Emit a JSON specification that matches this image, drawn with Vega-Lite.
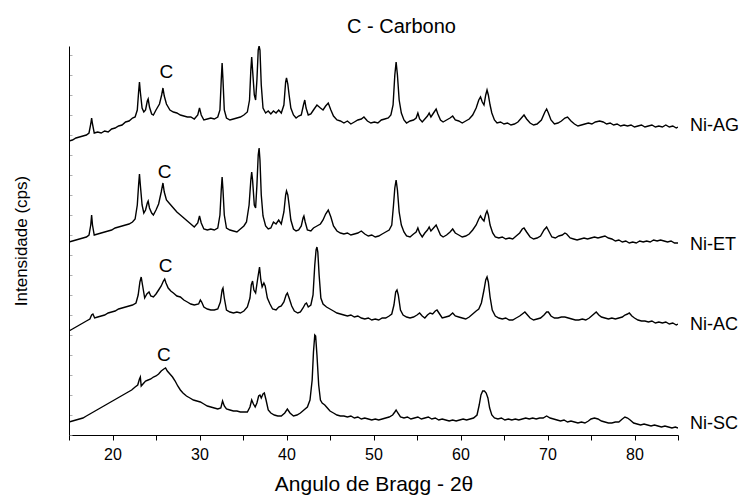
{
  "$schema": "https://vega.github.io/schema/vega-lite/v6.json",
  "autosize": {"type": "none"},
  "padding": {"left": 69, "top": 46, "right": 70, "bottom": 62},
  "width": 609,
  "height": 389,
  "background": "white",
  "config": {
    "view": {"stroke": null},
    "font": "Liberation Sans",
    "axis": {"labelFont": "Liberation Sans", "titleFont": "Liberation Sans", "labelColor": "black", "titleColor": "black", "domainColor": "black", "tickColor": "black", "grid": false, "titleFontWeight": "normal"}
  },
  "title": {"text": "C - Carbono", "fontSize": 20, "font": "Liberation Sans", "fontWeight": "normal", "color": "black", "anchor": "middle", "dx": 28, "dy": 25, "offset": 18, "baseline": "alphabetic"},
  "datasets": {
    "xrd": [
{"s":"AG","x":15.0,"y":294},{"s":"AG","x":15.4,"y":295},{"s":"AG","x":15.8,"y":297},{"s":"AG","x":16.2,"y":298},{"s":"AG","x":16.6,"y":299},{"s":"AG","x":17.0,"y":300},{"s":"AG","x":17.3,"y":302},{"s":"AG","x":17.5,"y":311},{"s":"AG","x":17.6,"y":317},{"s":"AG","x":17.7,"y":311},{"s":"AG","x":17.9,"y":302},{"s":"AG","x":18.3,"y":303},{"s":"AG","x":18.7,"y":302},{"s":"AG","x":19.1,"y":304},{"s":"AG","x":19.5,"y":303},{"s":"AG","x":19.9,"y":306},{"s":"AG","x":20.3,"y":307},{"s":"AG","x":20.7,"y":309},{"s":"AG","x":21.1,"y":310},{"s":"AG","x":21.5,"y":313},{"s":"AG","x":21.9,"y":314},{"s":"AG","x":22.3,"y":317},{"s":"AG","x":22.6,"y":318},{"s":"AG","x":22.85,"y":325},{"s":"AG","x":23.0,"y":343},{"s":"AG","x":23.1,"y":353},{"s":"AG","x":23.2,"y":343},{"s":"AG","x":23.4,"y":327},{"s":"AG","x":23.6,"y":323},{"s":"AG","x":23.8,"y":325},{"s":"AG","x":24.0,"y":334},{"s":"AG","x":24.1,"y":336},{"s":"AG","x":24.25,"y":328},{"s":"AG","x":24.5,"y":321},{"s":"AG","x":24.7,"y":320},{"s":"AG","x":25.0,"y":325},{"s":"AG","x":25.4,"y":331},{"s":"AG","x":25.65,"y":340},{"s":"AG","x":25.8,"y":347},{"s":"AG","x":25.95,"y":339},{"s":"AG","x":26.2,"y":331},{"s":"AG","x":26.6,"y":325},{"s":"AG","x":27.0,"y":323},{"s":"AG","x":27.4,"y":322},{"s":"AG","x":27.8,"y":320},{"s":"AG","x":28.2,"y":319},{"s":"AG","x":28.6,"y":318},{"s":"AG","x":29.0,"y":318},{"s":"AG","x":29.4,"y":316},{"s":"AG","x":29.8,"y":320},{"s":"AG","x":30.0,"y":327},{"s":"AG","x":30.2,"y":320},{"s":"AG","x":30.5,"y":315},{"s":"AG","x":30.9,"y":316},{"s":"AG","x":31.3,"y":317},{"s":"AG","x":31.7,"y":316},{"s":"AG","x":32.1,"y":318},{"s":"AG","x":32.35,"y":325},{"s":"AG","x":32.5,"y":355},{"s":"AG","x":32.6,"y":372},{"s":"AG","x":32.7,"y":355},{"s":"AG","x":32.85,"y":325},{"s":"AG","x":33.1,"y":317},{"s":"AG","x":33.5,"y":315},{"s":"AG","x":33.9,"y":316},{"s":"AG","x":34.3,"y":317},{"s":"AG","x":34.7,"y":318},{"s":"AG","x":35.1,"y":320},{"s":"AG","x":35.5,"y":323},{"s":"AG","x":35.75,"y":335},{"s":"AG","x":35.9,"y":365},{"s":"AG","x":36.0,"y":378},{"s":"AG","x":36.1,"y":365},{"s":"AG","x":36.3,"y":340},{"s":"AG","x":36.45,"y":335},{"s":"AG","x":36.6,"y":355},{"s":"AG","x":36.75,"y":385},{"s":"AG","x":36.85,"y":389},{"s":"AG","x":36.95,"y":385},{"s":"AG","x":37.1,"y":350},{"s":"AG","x":37.3,"y":327},{"s":"AG","x":37.6,"y":322},{"s":"AG","x":37.9,"y":324},{"s":"AG","x":38.2,"y":321},{"s":"AG","x":38.5,"y":324},{"s":"AG","x":38.8,"y":322},{"s":"AG","x":39.1,"y":325},{"s":"AG","x":39.4,"y":322},{"s":"AG","x":39.7,"y":330},{"s":"AG","x":39.9,"y":353},{"s":"AG","x":40.0,"y":357},{"s":"AG","x":40.15,"y":351},{"s":"AG","x":40.3,"y":340},{"s":"AG","x":40.5,"y":327},{"s":"AG","x":40.8,"y":320},{"s":"AG","x":41.1,"y":317},{"s":"AG","x":41.4,"y":319},{"s":"AG","x":41.7,"y":320},{"s":"AG","x":41.95,"y":330},{"s":"AG","x":42.1,"y":335},{"s":"AG","x":42.25,"y":327},{"s":"AG","x":42.5,"y":320},{"s":"AG","x":42.8,"y":321},{"s":"AG","x":43.1,"y":325},{"s":"AG","x":43.5,"y":330},{"s":"AG","x":43.9,"y":327},{"s":"AG","x":44.2,"y":325},{"s":"AG","x":44.5,"y":329},{"s":"AG","x":44.8,"y":332},{"s":"AG","x":45.1,"y":325},{"s":"AG","x":45.4,"y":319},{"s":"AG","x":45.8,"y":315},{"s":"AG","x":46.2,"y":314},{"s":"AG","x":46.6,"y":312},{"s":"AG","x":47.0,"y":314},{"s":"AG","x":47.4,"y":311},{"s":"AG","x":47.8,"y":313},{"s":"AG","x":48.2,"y":315},{"s":"AG","x":48.6,"y":316},{"s":"AG","x":48.9,"y":318},{"s":"AG","x":49.3,"y":314},{"s":"AG","x":49.7,"y":312},{"s":"AG","x":50.1,"y":313},{"s":"AG","x":50.5,"y":312},{"s":"AG","x":50.9,"y":315},{"s":"AG","x":51.3,"y":316},{"s":"AG","x":51.7,"y":317},{"s":"AG","x":52.0,"y":320},{"s":"AG","x":52.25,"y":330},{"s":"AG","x":52.45,"y":360},{"s":"AG","x":52.6,"y":373},{"s":"AG","x":52.75,"y":360},{"s":"AG","x":52.95,"y":335},{"s":"AG","x":53.2,"y":322},{"s":"AG","x":53.5,"y":315},{"s":"AG","x":53.8,"y":312},{"s":"AG","x":54.2,"y":314},{"s":"AG","x":54.6,"y":315},{"s":"AG","x":54.9,"y":317},{"s":"AG","x":55.1,"y":322},{"s":"AG","x":55.3,"y":316},{"s":"AG","x":55.6,"y":313},{"s":"AG","x":55.9,"y":316},{"s":"AG","x":56.2,"y":319},{"s":"AG","x":56.4,"y":322},{"s":"AG","x":56.6,"y":318},{"s":"AG","x":56.9,"y":322},{"s":"AG","x":57.2,"y":326},{"s":"AG","x":57.4,"y":321},{"s":"AG","x":57.7,"y":315},{"s":"AG","x":58.0,"y":313},{"s":"AG","x":58.4,"y":315},{"s":"AG","x":58.8,"y":317},{"s":"AG","x":59.1,"y":319},{"s":"AG","x":59.4,"y":315},{"s":"AG","x":59.8,"y":314},{"s":"AG","x":60.2,"y":312},{"s":"AG","x":60.6,"y":314},{"s":"AG","x":61.0,"y":316},{"s":"AG","x":61.4,"y":320},{"s":"AG","x":61.8,"y":327},{"s":"AG","x":62.1,"y":335},{"s":"AG","x":62.3,"y":338},{"s":"AG","x":62.5,"y":333},{"s":"AG","x":62.7,"y":330},{"s":"AG","x":62.9,"y":340},{"s":"AG","x":63.05,"y":345},{"s":"AG","x":63.2,"y":340},{"s":"AG","x":63.4,"y":330},{"s":"AG","x":63.6,"y":322},{"s":"AG","x":63.9,"y":315},{"s":"AG","x":64.2,"y":312},{"s":"AG","x":64.6,"y":313},{"s":"AG","x":65.0,"y":311},{"s":"AG","x":65.4,"y":312},{"s":"AG","x":65.8,"y":310},{"s":"AG","x":66.2,"y":311},{"s":"AG","x":66.6,"y":313},{"s":"AG","x":67.0,"y":317},{"s":"AG","x":67.3,"y":320},{"s":"AG","x":67.6,"y":316},{"s":"AG","x":68.0,"y":312},{"s":"AG","x":68.4,"y":310},{"s":"AG","x":68.8,"y":311},{"s":"AG","x":69.3,"y":315},{"s":"AG","x":69.7,"y":323},{"s":"AG","x":69.9,"y":326},{"s":"AG","x":70.1,"y":322},{"s":"AG","x":70.4,"y":315},{"s":"AG","x":70.8,"y":311},{"s":"AG","x":71.2,"y":312},{"s":"AG","x":71.6,"y":314},{"s":"AG","x":72.0,"y":317},{"s":"AG","x":72.3,"y":318},{"s":"AG","x":72.7,"y":314},{"s":"AG","x":73.1,"y":311},{"s":"AG","x":73.5,"y":309},{"s":"AG","x":73.9,"y":310},{"s":"AG","x":74.3,"y":311},{"s":"AG","x":74.7,"y":312},{"s":"AG","x":75.1,"y":311},{"s":"AG","x":75.5,"y":313},{"s":"AG","x":76.0,"y":314},{"s":"AG","x":76.4,"y":313},{"s":"AG","x":76.8,"y":311},{"s":"AG","x":77.2,"y":312},{"s":"AG","x":77.6,"y":310},{"s":"AG","x":78.0,"y":311},{"s":"AG","x":78.4,"y":309},{"s":"AG","x":78.8,"y":310},{"s":"AG","x":79.2,"y":309},{"s":"AG","x":79.6,"y":310},{"s":"AG","x":80.0,"y":308},{"s":"AG","x":80.4,"y":309},{"s":"AG","x":80.8,"y":310},{"s":"AG","x":81.2,"y":308},{"s":"AG","x":81.6,"y":309},{"s":"AG","x":82.0,"y":310},{"s":"AG","x":82.4,"y":308},{"s":"AG","x":82.8,"y":309},{"s":"AG","x":83.2,"y":308},{"s":"AG","x":83.6,"y":310},{"s":"AG","x":84.0,"y":308},{"s":"AG","x":84.4,"y":309},{"s":"AG","x":84.8,"y":307},{"s":"AG","x":85.0,"y":308},
{"s":"ET","x":15.0,"y":193},{"s":"ET","x":15.4,"y":194},{"s":"ET","x":15.8,"y":195},{"s":"ET","x":16.2,"y":196},{"s":"ET","x":16.6,"y":197},{"s":"ET","x":17.0,"y":198},{"s":"ET","x":17.3,"y":200},{"s":"ET","x":17.5,"y":210},{"s":"ET","x":17.6,"y":220},{"s":"ET","x":17.7,"y":210},{"s":"ET","x":17.9,"y":200},{"s":"ET","x":18.3,"y":201},{"s":"ET","x":18.7,"y":202},{"s":"ET","x":19.1,"y":203},{"s":"ET","x":19.5,"y":204},{"s":"ET","x":19.9,"y":205},{"s":"ET","x":20.3,"y":207},{"s":"ET","x":20.7,"y":208},{"s":"ET","x":21.1,"y":209},{"s":"ET","x":21.5,"y":210},{"s":"ET","x":21.9,"y":211},{"s":"ET","x":22.3,"y":213},{"s":"ET","x":22.6,"y":216},{"s":"ET","x":22.85,"y":230},{"s":"ET","x":23.0,"y":250},{"s":"ET","x":23.1,"y":261},{"s":"ET","x":23.2,"y":250},{"s":"ET","x":23.4,"y":230},{"s":"ET","x":23.6,"y":222},{"s":"ET","x":23.8,"y":225},{"s":"ET","x":24.0,"y":232},{"s":"ET","x":24.1,"y":234},{"s":"ET","x":24.25,"y":227},{"s":"ET","x":24.5,"y":222},{"s":"ET","x":24.7,"y":220},{"s":"ET","x":25.0,"y":225},{"s":"ET","x":25.3,"y":231},{"s":"ET","x":25.6,"y":243},{"s":"ET","x":25.8,"y":252},{"s":"ET","x":25.95,"y":243},{"s":"ET","x":26.2,"y":235},{"s":"ET","x":26.6,"y":231},{"s":"ET","x":27.0,"y":227},{"s":"ET","x":27.4,"y":223},{"s":"ET","x":27.8,"y":220},{"s":"ET","x":28.2,"y":217},{"s":"ET","x":28.6,"y":214},{"s":"ET","x":29.0,"y":211},{"s":"ET","x":29.4,"y":208},{"s":"ET","x":29.8,"y":212},{"s":"ET","x":30.0,"y":219},{"s":"ET","x":30.2,"y":212},{"s":"ET","x":30.5,"y":206},{"s":"ET","x":30.9,"y":205},{"s":"ET","x":31.3,"y":206},{"s":"ET","x":31.7,"y":205},{"s":"ET","x":32.1,"y":207},{"s":"ET","x":32.35,"y":220},{"s":"ET","x":32.5,"y":245},{"s":"ET","x":32.6,"y":258},{"s":"ET","x":32.7,"y":245},{"s":"ET","x":32.85,"y":220},{"s":"ET","x":33.1,"y":207},{"s":"ET","x":33.5,"y":205},{"s":"ET","x":33.9,"y":204},{"s":"ET","x":34.3,"y":203},{"s":"ET","x":34.7,"y":206},{"s":"ET","x":35.1,"y":209},{"s":"ET","x":35.4,"y":213},{"s":"ET","x":35.7,"y":230},{"s":"ET","x":35.9,"y":255},{"s":"ET","x":36.0,"y":263},{"s":"ET","x":36.1,"y":255},{"s":"ET","x":36.3,"y":230},{"s":"ET","x":36.45,"y":227},{"s":"ET","x":36.6,"y":250},{"s":"ET","x":36.75,"y":280},{"s":"ET","x":36.85,"y":287},{"s":"ET","x":36.95,"y":275},{"s":"ET","x":37.1,"y":240},{"s":"ET","x":37.3,"y":219},{"s":"ET","x":37.6,"y":209},{"s":"ET","x":37.9,"y":206},{"s":"ET","x":38.2,"y":207},{"s":"ET","x":38.5,"y":213},{"s":"ET","x":38.8,"y":211},{"s":"ET","x":39.1,"y":215},{"s":"ET","x":39.4,"y":211},{"s":"ET","x":39.7,"y":223},{"s":"ET","x":39.9,"y":240},{"s":"ET","x":40.0,"y":244},{"s":"ET","x":40.15,"y":240},{"s":"ET","x":40.3,"y":230},{"s":"ET","x":40.5,"y":215},{"s":"ET","x":40.8,"y":206},{"s":"ET","x":41.1,"y":204},{"s":"ET","x":41.4,"y":205},{"s":"ET","x":41.7,"y":209},{"s":"ET","x":41.9,"y":217},{"s":"ET","x":42.0,"y":219},{"s":"ET","x":42.15,"y":213},{"s":"ET","x":42.4,"y":205},{"s":"ET","x":42.8,"y":204},{"s":"ET","x":43.1,"y":207},{"s":"ET","x":43.5,"y":209},{"s":"ET","x":43.9,"y":211},{"s":"ET","x":44.2,"y":215},{"s":"ET","x":44.5,"y":221},{"s":"ET","x":44.8,"y":225},{"s":"ET","x":45.1,"y":218},{"s":"ET","x":45.4,"y":209},{"s":"ET","x":45.8,"y":204},{"s":"ET","x":46.2,"y":202},{"s":"ET","x":46.6,"y":201},{"s":"ET","x":47.0,"y":202},{"s":"ET","x":47.4,"y":200},{"s":"ET","x":47.8,"y":201},{"s":"ET","x":48.2,"y":202},{"s":"ET","x":48.6,"y":204},{"s":"ET","x":49.0,"y":201},{"s":"ET","x":49.4,"y":199},{"s":"ET","x":49.8,"y":200},{"s":"ET","x":50.2,"y":198},{"s":"ET","x":50.6,"y":199},{"s":"ET","x":51.0,"y":201},{"s":"ET","x":51.4,"y":203},{"s":"ET","x":51.8,"y":205},{"s":"ET","x":52.1,"y":210},{"s":"ET","x":52.3,"y":230},{"s":"ET","x":52.45,"y":247},{"s":"ET","x":52.6,"y":255},{"s":"ET","x":52.75,"y":245},{"s":"ET","x":52.95,"y":223},{"s":"ET","x":53.2,"y":210},{"s":"ET","x":53.5,"y":203},{"s":"ET","x":53.8,"y":199},{"s":"ET","x":54.2,"y":198},{"s":"ET","x":54.6,"y":201},{"s":"ET","x":54.9,"y":203},{"s":"ET","x":55.1,"y":207},{"s":"ET","x":55.3,"y":202},{"s":"ET","x":55.6,"y":198},{"s":"ET","x":55.9,"y":202},{"s":"ET","x":56.2,"y":205},{"s":"ET","x":56.4,"y":208},{"s":"ET","x":56.6,"y":204},{"s":"ET","x":56.9,"y":207},{"s":"ET","x":57.2,"y":210},{"s":"ET","x":57.4,"y":206},{"s":"ET","x":57.7,"y":200},{"s":"ET","x":58.0,"y":198},{"s":"ET","x":58.4,"y":200},{"s":"ET","x":58.8,"y":203},{"s":"ET","x":59.1,"y":206},{"s":"ET","x":59.4,"y":202},{"s":"ET","x":59.8,"y":200},{"s":"ET","x":60.2,"y":198},{"s":"ET","x":60.6,"y":199},{"s":"ET","x":61.0,"y":201},{"s":"ET","x":61.4,"y":205},{"s":"ET","x":61.8,"y":210},{"s":"ET","x":62.1,"y":216},{"s":"ET","x":62.3,"y":219},{"s":"ET","x":62.5,"y":216},{"s":"ET","x":62.7,"y":214},{"s":"ET","x":62.9,"y":221},{"s":"ET","x":63.05,"y":224},{"s":"ET","x":63.2,"y":220},{"s":"ET","x":63.4,"y":210},{"s":"ET","x":63.7,"y":202},{"s":"ET","x":64.0,"y":198},{"s":"ET","x":64.4,"y":197},{"s":"ET","x":64.8,"y":198},{"s":"ET","x":65.2,"y":196},{"s":"ET","x":65.6,"y":197},{"s":"ET","x":66.0,"y":196},{"s":"ET","x":66.4,"y":199},{"s":"ET","x":66.8,"y":202},{"s":"ET","x":67.1,"y":206},{"s":"ET","x":67.3,"y":207},{"s":"ET","x":67.6,"y":203},{"s":"ET","x":68.0,"y":198},{"s":"ET","x":68.4,"y":196},{"s":"ET","x":68.8,"y":197},{"s":"ET","x":69.2,"y":199},{"s":"ET","x":69.6,"y":205},{"s":"ET","x":69.9,"y":208},{"s":"ET","x":70.2,"y":203},{"s":"ET","x":70.5,"y":198},{"s":"ET","x":70.9,"y":197},{"s":"ET","x":71.3,"y":199},{"s":"ET","x":71.7,"y":200},{"s":"ET","x":72.0,"y":202},{"s":"ET","x":72.2,"y":201},{"s":"ET","x":72.6,"y":197},{"s":"ET","x":73.0,"y":196},{"s":"ET","x":73.4,"y":195},{"s":"ET","x":73.8,"y":196},{"s":"ET","x":74.2,"y":197},{"s":"ET","x":74.6,"y":196},{"s":"ET","x":75.0,"y":197},{"s":"ET","x":75.4,"y":198},{"s":"ET","x":75.8,"y":197},{"s":"ET","x":76.2,"y":198},{"s":"ET","x":76.6,"y":199},{"s":"ET","x":77.0,"y":197},{"s":"ET","x":77.4,"y":196},{"s":"ET","x":77.8,"y":194},{"s":"ET","x":78.2,"y":195},{"s":"ET","x":78.6,"y":193},{"s":"ET","x":79.0,"y":194},{"s":"ET","x":79.4,"y":192},{"s":"ET","x":79.8,"y":193},{"s":"ET","x":80.2,"y":192},{"s":"ET","x":80.6,"y":194},{"s":"ET","x":81.0,"y":193},{"s":"ET","x":81.4,"y":194},{"s":"ET","x":81.8,"y":193},{"s":"ET","x":82.2,"y":195},{"s":"ET","x":82.6,"y":194},{"s":"ET","x":83.0,"y":195},{"s":"ET","x":83.4,"y":194},{"s":"ET","x":83.8,"y":193},{"s":"ET","x":84.2,"y":194},{"s":"ET","x":84.6,"y":192},{"s":"ET","x":85.0,"y":192},
{"s":"AC","x":15.0,"y":104},{"s":"AC","x":15.4,"y":106},{"s":"AC","x":15.8,"y":108},{"s":"AC","x":16.2,"y":110},{"s":"AC","x":16.6,"y":112},{"s":"AC","x":17.0,"y":114},{"s":"AC","x":17.4,"y":116},{"s":"AC","x":17.6,"y":120},{"s":"AC","x":17.75,"y":121},{"s":"AC","x":17.95,"y":117},{"s":"AC","x":18.3,"y":118},{"s":"AC","x":18.7,"y":119},{"s":"AC","x":19.1,"y":120},{"s":"AC","x":19.5,"y":122},{"s":"AC","x":19.9,"y":123},{"s":"AC","x":20.3,"y":124},{"s":"AC","x":20.7,"y":126},{"s":"AC","x":21.1,"y":127},{"s":"AC","x":21.5,"y":128},{"s":"AC","x":21.9,"y":129},{"s":"AC","x":22.3,"y":130},{"s":"AC","x":22.7,"y":132},{"s":"AC","x":22.95,"y":140},{"s":"AC","x":23.15,"y":153},{"s":"AC","x":23.3,"y":158},{"s":"AC","x":23.45,"y":150},{"s":"AC","x":23.7,"y":137},{"s":"AC","x":23.95,"y":141},{"s":"AC","x":24.2,"y":143},{"s":"AC","x":24.4,"y":139},{"s":"AC","x":24.7,"y":138},{"s":"AC","x":25.0,"y":141},{"s":"AC","x":25.3,"y":145},{"s":"AC","x":25.6,"y":149},{"s":"AC","x":25.85,"y":154},{"s":"AC","x":26.0,"y":156},{"s":"AC","x":26.15,"y":152},{"s":"AC","x":26.4,"y":147},{"s":"AC","x":26.7,"y":144},{"s":"AC","x":27.0,"y":142},{"s":"AC","x":27.4,"y":139},{"s":"AC","x":27.8,"y":138},{"s":"AC","x":28.2,"y":135},{"s":"AC","x":28.6,"y":133},{"s":"AC","x":29.0,"y":131},{"s":"AC","x":29.4,"y":130},{"s":"AC","x":29.9,"y":131},{"s":"AC","x":30.1,"y":135},{"s":"AC","x":30.25,"y":133},{"s":"AC","x":30.5,"y":128},{"s":"AC","x":30.9,"y":126},{"s":"AC","x":31.3,"y":125},{"s":"AC","x":31.7,"y":125},{"s":"AC","x":32.1,"y":126},{"s":"AC","x":32.4,"y":133},{"s":"AC","x":32.6,"y":145},{"s":"AC","x":32.7,"y":147},{"s":"AC","x":32.85,"y":137},{"s":"AC","x":33.1,"y":125},{"s":"AC","x":33.5,"y":123},{"s":"AC","x":33.9,"y":122},{"s":"AC","x":34.3,"y":123},{"s":"AC","x":34.7,"y":122},{"s":"AC","x":35.1,"y":124},{"s":"AC","x":35.5,"y":128},{"s":"AC","x":35.8,"y":137},{"s":"AC","x":35.95,"y":150},{"s":"AC","x":36.1,"y":154},{"s":"AC","x":36.25,"y":145},{"s":"AC","x":36.45,"y":142},{"s":"AC","x":36.7,"y":157},{"s":"AC","x":36.9,"y":168},{"s":"AC","x":37.05,"y":155},{"s":"AC","x":37.2,"y":148},{"s":"AC","x":37.4,"y":152},{"s":"AC","x":37.55,"y":149},{"s":"AC","x":37.8,"y":137},{"s":"AC","x":38.1,"y":131},{"s":"AC","x":38.4,"y":126},{"s":"AC","x":38.8,"y":125},{"s":"AC","x":39.1,"y":128},{"s":"AC","x":39.4,"y":129},{"s":"AC","x":39.7,"y":133},{"s":"AC","x":39.95,"y":140},{"s":"AC","x":40.1,"y":142},{"s":"AC","x":40.3,"y":137},{"s":"AC","x":40.6,"y":129},{"s":"AC","x":40.9,"y":124},{"s":"AC","x":41.3,"y":122},{"s":"AC","x":41.6,"y":123},{"s":"AC","x":41.9,"y":127},{"s":"AC","x":42.15,"y":131},{"s":"AC","x":42.3,"y":132},{"s":"AC","x":42.5,"y":128},{"s":"AC","x":42.8,"y":130},{"s":"AC","x":43.05,"y":140},{"s":"AC","x":43.25,"y":170},{"s":"AC","x":43.4,"y":185},{"s":"AC","x":43.5,"y":188},{"s":"AC","x":43.6,"y":183},{"s":"AC","x":43.75,"y":160},{"s":"AC","x":43.95,"y":137},{"s":"AC","x":44.2,"y":131},{"s":"AC","x":44.6,"y":128},{"s":"AC","x":45.0,"y":126},{"s":"AC","x":45.4,"y":124},{"s":"AC","x":45.8,"y":122},{"s":"AC","x":46.2,"y":121},{"s":"AC","x":46.6,"y":120},{"s":"AC","x":47.0,"y":119},{"s":"AC","x":47.4,"y":120},{"s":"AC","x":47.8,"y":118},{"s":"AC","x":48.2,"y":119},{"s":"AC","x":48.6,"y":117},{"s":"AC","x":49.0,"y":116},{"s":"AC","x":49.4,"y":117},{"s":"AC","x":49.8,"y":115},{"s":"AC","x":50.2,"y":116},{"s":"AC","x":50.6,"y":115},{"s":"AC","x":51.0,"y":117},{"s":"AC","x":51.4,"y":117},{"s":"AC","x":51.8,"y":119},{"s":"AC","x":52.1,"y":121},{"s":"AC","x":52.35,"y":130},{"s":"AC","x":52.55,"y":143},{"s":"AC","x":52.7,"y":145},{"s":"AC","x":52.85,"y":140},{"s":"AC","x":53.1,"y":125},{"s":"AC","x":53.4,"y":120},{"s":"AC","x":53.8,"y":118},{"s":"AC","x":54.2,"y":117},{"s":"AC","x":54.6,"y":118},{"s":"AC","x":55.0,"y":120},{"s":"AC","x":55.3,"y":122},{"s":"AC","x":55.6,"y":119},{"s":"AC","x":55.9,"y":117},{"s":"AC","x":56.2,"y":120},{"s":"AC","x":56.5,"y":122},{"s":"AC","x":56.8,"y":121},{"s":"AC","x":57.1,"y":124},{"s":"AC","x":57.3,"y":125},{"s":"AC","x":57.6,"y":121},{"s":"AC","x":57.9,"y":117},{"s":"AC","x":58.3,"y":118},{"s":"AC","x":58.7,"y":119},{"s":"AC","x":59.1,"y":122},{"s":"AC","x":59.4,"y":119},{"s":"AC","x":59.8,"y":118},{"s":"AC","x":60.2,"y":117},{"s":"AC","x":60.6,"y":116},{"s":"AC","x":61.0,"y":118},{"s":"AC","x":61.4,"y":121},{"s":"AC","x":61.8,"y":124},{"s":"AC","x":62.1,"y":126},{"s":"AC","x":62.4,"y":132},{"s":"AC","x":62.7,"y":145},{"s":"AC","x":62.9,"y":155},{"s":"AC","x":63.05,"y":158},{"s":"AC","x":63.2,"y":153},{"s":"AC","x":63.4,"y":138},{"s":"AC","x":63.65,"y":125},{"s":"AC","x":64.0,"y":119},{"s":"AC","x":64.4,"y":117},{"s":"AC","x":64.8,"y":116},{"s":"AC","x":65.2,"y":117},{"s":"AC","x":65.6,"y":115},{"s":"AC","x":66.0,"y":115},{"s":"AC","x":66.4,"y":117},{"s":"AC","x":66.8,"y":119},{"s":"AC","x":67.1,"y":121},{"s":"AC","x":67.4,"y":123},{"s":"AC","x":67.7,"y":120},{"s":"AC","x":68.0,"y":117},{"s":"AC","x":68.4,"y":115},{"s":"AC","x":68.8,"y":116},{"s":"AC","x":69.2,"y":117},{"s":"AC","x":69.6,"y":120},{"s":"AC","x":69.9,"y":123},{"s":"AC","x":70.1,"y":123},{"s":"AC","x":70.4,"y":119},{"s":"AC","x":70.8,"y":117},{"s":"AC","x":71.2,"y":117},{"s":"AC","x":71.6,"y":118},{"s":"AC","x":72.0,"y":118},{"s":"AC","x":72.4,"y":117},{"s":"AC","x":72.8,"y":116},{"s":"AC","x":73.2,"y":115},{"s":"AC","x":73.6,"y":115},{"s":"AC","x":74.0,"y":116},{"s":"AC","x":74.4,"y":115},{"s":"AC","x":74.8,"y":117},{"s":"AC","x":75.2,"y":120},{"s":"AC","x":75.6,"y":123},{"s":"AC","x":75.9,"y":120},{"s":"AC","x":76.2,"y":118},{"s":"AC","x":76.6,"y":117},{"s":"AC","x":77.0,"y":116},{"s":"AC","x":77.4,"y":117},{"s":"AC","x":77.8,"y":116},{"s":"AC","x":78.2,"y":117},{"s":"AC","x":78.6,"y":118},{"s":"AC","x":78.9,"y":120},{"s":"AC","x":79.2,"y":121},{"s":"AC","x":79.4,"y":122},{"s":"AC","x":79.7,"y":119},{"s":"AC","x":80.0,"y":117},{"s":"AC","x":80.4,"y":115},{"s":"AC","x":80.8,"y":114},{"s":"AC","x":81.2,"y":114},{"s":"AC","x":81.6,"y":113},{"s":"AC","x":82.0,"y":114},{"s":"AC","x":82.4,"y":112},{"s":"AC","x":82.8,"y":113},{"s":"AC","x":83.2,"y":112},{"s":"AC","x":83.6,"y":113},{"s":"AC","x":84.0,"y":111},{"s":"AC","x":84.4,"y":112},{"s":"AC","x":84.8,"y":110},{"s":"AC","x":85.0,"y":111},
{"s":"SC","x":15.0,"y":13},{"s":"SC","x":15.4,"y":14},{"s":"SC","x":15.8,"y":15},{"s":"SC","x":16.2,"y":16},{"s":"SC","x":16.6,"y":17},{"s":"SC","x":17.0,"y":19},{"s":"SC","x":17.4,"y":21},{"s":"SC","x":17.8,"y":23},{"s":"SC","x":18.2,"y":25},{"s":"SC","x":18.6,"y":27},{"s":"SC","x":19.0,"y":29},{"s":"SC","x":19.4,"y":31},{"s":"SC","x":19.8,"y":33},{"s":"SC","x":20.2,"y":35},{"s":"SC","x":20.6,"y":37},{"s":"SC","x":21.0,"y":39},{"s":"SC","x":21.4,"y":41},{"s":"SC","x":21.8,"y":43},{"s":"SC","x":22.2,"y":45},{"s":"SC","x":22.6,"y":48},{"s":"SC","x":22.9,"y":50},{"s":"SC","x":23.1,"y":56},{"s":"SC","x":23.2,"y":58},{"s":"SC","x":23.3,"y":49},{"s":"SC","x":23.5,"y":51},{"s":"SC","x":23.8,"y":54},{"s":"SC","x":24.1,"y":55},{"s":"SC","x":24.4,"y":56},{"s":"SC","x":24.7,"y":58},{"s":"SC","x":25.0,"y":59},{"s":"SC","x":25.3,"y":61},{"s":"SC","x":25.6,"y":64},{"s":"SC","x":25.9,"y":66},{"s":"SC","x":26.1,"y":67},{"s":"SC","x":26.3,"y":64},{"s":"SC","x":26.6,"y":61},{"s":"SC","x":26.9,"y":58},{"s":"SC","x":27.2,"y":54},{"s":"SC","x":27.5,"y":49},{"s":"SC","x":27.8,"y":45},{"s":"SC","x":28.1,"y":42},{"s":"SC","x":28.5,"y":39},{"s":"SC","x":28.9,"y":37},{"s":"SC","x":29.3,"y":35},{"s":"SC","x":29.7,"y":34},{"s":"SC","x":30.1,"y":33},{"s":"SC","x":30.5,"y":31},{"s":"SC","x":30.9,"y":29},{"s":"SC","x":31.3,"y":28},{"s":"SC","x":31.7,"y":27},{"s":"SC","x":32.1,"y":26},{"s":"SC","x":32.45,"y":27},{"s":"SC","x":32.65,"y":34},{"s":"SC","x":32.85,"y":29},{"s":"SC","x":33.1,"y":26},{"s":"SC","x":33.5,"y":25},{"s":"SC","x":33.9,"y":24},{"s":"SC","x":34.3,"y":24},{"s":"SC","x":34.7,"y":23},{"s":"SC","x":35.1,"y":23},{"s":"SC","x":35.5,"y":23},{"s":"SC","x":35.8,"y":28},{"s":"SC","x":36.0,"y":35},{"s":"SC","x":36.2,"y":31},{"s":"SC","x":36.4,"y":28},{"s":"SC","x":36.6,"y":32},{"s":"SC","x":36.8,"y":39},{"s":"SC","x":36.95,"y":40},{"s":"SC","x":37.1,"y":37},{"s":"SC","x":37.3,"y":41},{"s":"SC","x":37.45,"y":42},{"s":"SC","x":37.65,"y":35},{"s":"SC","x":37.9,"y":25},{"s":"SC","x":38.2,"y":22},{"s":"SC","x":38.6,"y":20},{"s":"SC","x":39.0,"y":19},{"s":"SC","x":39.4,"y":19},{"s":"SC","x":39.8,"y":22},{"s":"SC","x":40.1,"y":26},{"s":"SC","x":40.4,"y":22},{"s":"SC","x":40.8,"y":19},{"s":"SC","x":41.2,"y":20},{"s":"SC","x":41.6,"y":22},{"s":"SC","x":42.0,"y":25},{"s":"SC","x":42.4,"y":28},{"s":"SC","x":42.7,"y":35},{"s":"SC","x":42.95,"y":55},{"s":"SC","x":43.1,"y":83},{"s":"SC","x":43.25,"y":100},{"s":"SC","x":43.35,"y":99},{"s":"SC","x":43.5,"y":80},{"s":"SC","x":43.7,"y":50},{"s":"SC","x":43.9,"y":35},{"s":"SC","x":44.1,"y":32},{"s":"SC","x":44.4,"y":30},{"s":"SC","x":44.7,"y":27},{"s":"SC","x":45.0,"y":24},{"s":"SC","x":45.4,"y":22},{"s":"SC","x":45.8,"y":20},{"s":"SC","x":46.2,"y":19},{"s":"SC","x":46.6,"y":19},{"s":"SC","x":47.0,"y":18},{"s":"SC","x":47.4,"y":19},{"s":"SC","x":47.8,"y":17},{"s":"SC","x":48.2,"y":18},{"s":"SC","x":48.6,"y":16},{"s":"SC","x":49.0,"y":17},{"s":"SC","x":49.4,"y":16},{"s":"SC","x":49.8,"y":15},{"s":"SC","x":50.2,"y":16},{"s":"SC","x":50.6,"y":15},{"s":"SC","x":51.0,"y":16},{"s":"SC","x":51.4,"y":17},{"s":"SC","x":51.8,"y":18},{"s":"SC","x":52.2,"y":20},{"s":"SC","x":52.45,"y":23},{"s":"SC","x":52.6,"y":25},{"s":"SC","x":52.8,"y":22},{"s":"SC","x":53.1,"y":18},{"s":"SC","x":53.5,"y":17},{"s":"SC","x":53.9,"y":18},{"s":"SC","x":54.3,"y":16},{"s":"SC","x":54.7,"y":17},{"s":"SC","x":55.1,"y":18},{"s":"SC","x":55.5,"y":16},{"s":"SC","x":55.9,"y":17},{"s":"SC","x":56.3,"y":18},{"s":"SC","x":56.7,"y":16},{"s":"SC","x":57.1,"y":17},{"s":"SC","x":57.5,"y":15},{"s":"SC","x":57.9,"y":16},{"s":"SC","x":58.3,"y":15},{"s":"SC","x":58.7,"y":14},{"s":"SC","x":59.1,"y":15},{"s":"SC","x":59.5,"y":14},{"s":"SC","x":59.9,"y":15},{"s":"SC","x":60.3,"y":16},{"s":"SC","x":60.7,"y":15},{"s":"SC","x":61.1,"y":16},{"s":"SC","x":61.5,"y":17},{"s":"SC","x":61.9,"y":20},{"s":"SC","x":62.15,"y":30},{"s":"SC","x":62.35,"y":40},{"s":"SC","x":62.55,"y":44},{"s":"SC","x":62.75,"y":44},{"s":"SC","x":62.95,"y":42},{"s":"SC","x":63.15,"y":37},{"s":"SC","x":63.35,"y":27},{"s":"SC","x":63.6,"y":20},{"s":"SC","x":63.9,"y":17},{"s":"SC","x":64.3,"y":16},{"s":"SC","x":64.7,"y":17},{"s":"SC","x":65.1,"y":15},{"s":"SC","x":65.5,"y":16},{"s":"SC","x":65.9,"y":15},{"s":"SC","x":66.3,"y":16},{"s":"SC","x":66.7,"y":15},{"s":"SC","x":67.1,"y":16},{"s":"SC","x":67.5,"y":17},{"s":"SC","x":67.9,"y":16},{"s":"SC","x":68.3,"y":17},{"s":"SC","x":68.7,"y":16},{"s":"SC","x":69.1,"y":17},{"s":"SC","x":69.5,"y":17},{"s":"SC","x":69.9,"y":19},{"s":"SC","x":70.3,"y":17},{"s":"SC","x":70.7,"y":16},{"s":"SC","x":71.1,"y":15},{"s":"SC","x":71.5,"y":14},{"s":"SC","x":71.9,"y":15},{"s":"SC","x":72.3,"y":13},{"s":"SC","x":72.7,"y":14},{"s":"SC","x":73.1,"y":13},{"s":"SC","x":73.5,"y":12},{"s":"SC","x":73.9,"y":13},{"s":"SC","x":74.3,"y":12},{"s":"SC","x":74.7,"y":14},{"s":"SC","x":75.0,"y":16},{"s":"SC","x":75.4,"y":17},{"s":"SC","x":75.8,"y":16},{"s":"SC","x":76.2,"y":14},{"s":"SC","x":76.6,"y":13},{"s":"SC","x":77.0,"y":12},{"s":"SC","x":77.4,"y":12},{"s":"SC","x":77.8,"y":13},{"s":"SC","x":78.2,"y":13},{"s":"SC","x":78.6,"y":16},{"s":"SC","x":78.9,"y":18},{"s":"SC","x":79.2,"y":17},{"s":"SC","x":79.5,"y":15},{"s":"SC","x":79.9,"y":12},{"s":"SC","x":80.3,"y":11},{"s":"SC","x":80.7,"y":10},{"s":"SC","x":81.1,"y":11},{"s":"SC","x":81.5,"y":10},{"s":"SC","x":81.9,"y":9},{"s":"SC","x":82.3,"y":10},{"s":"SC","x":82.7,"y":9},{"s":"SC","x":83.1,"y":8},{"s":"SC","x":83.5,"y":9},{"s":"SC","x":83.9,"y":8},{"s":"SC","x":84.3,"y":7},{"s":"SC","x":84.7,"y":8},{"s":"SC","x":85.0,"y":7}
    ],
    "names": [
      {"x": 85, "y": 309, "t": "Ni-AG"},
      {"x": 85, "y": 190, "t": "Ni-ET"},
      {"x": 85, "y": 110, "t": "Ni-AC"},
      {"x": 85, "y": 11, "t": "Ni-SC"}
    ],
    "carb": [
      {"x": 26.2, "y": 363, "t": "C"},
      {"x": 26.0, "y": 263, "t": "C"},
      {"x": 26.1, "y": 169, "t": "C"},
      {"x": 25.9, "y": 80, "t": "C"}
    ]
  },
  "encoding": {
    "x": {
      "field": "x", "type": "quantitative",
      "scale": {"domain": [15, 85], "nice": false, "zero": false},
      "axis": {
        "title": "Angulo de Bragg - 2θ",
        "titleFontSize": 21, "titlePadding": 11,
        "values": [15, 20, 25, 30, 35, 40, 45, 50, 55, 60, 65, 70, 75, 80, 85],
        "labelExpr": "datum.value % 10 === 0 && datum.value > 15 && datum.value < 85 ? datum.label : ''",
        "labelFontSize": 16, "labelPadding": 6, "tickSize": 5, "tickWidth": 1, "domainWidth": 1
      }
    },
    "y": {
      "field": "y", "type": "quantitative",
      "scale": {"domain": [0, 389], "nice": false, "zero": false},
      "axis": {
        "title": "Intensidade (cps)",
        "titleFontSize": 17, "titlePadding": 38,
        "labels": false,
        "values": [0, 20, 40, 60, 80, 100, 120, 140, 160, 180, 200, 220, 240, 260, 280, 300, 320, 340, 360, 380],
        "tickSize": -3, "tickColor": "#999", "tickWidth": 0.8, "domainWidth": 1
      }
    }
  },
  "layer": [
    {
      "data": {"name": "xrd"},
      "mark": {"type": "line", "color": "black", "strokeWidth": 1.4, "clip": true},
      "encoding": {"detail": {"field": "s"}}
    },
    {
      "data": {"name": "names"},
      "mark": {"type": "text", "align": "left", "baseline": "middle", "dx": 12, "fontSize": 18, "font": "Liberation Sans", "color": "black"},
      "encoding": {"text": {"field": "t"}}
    },
    {
      "data": {"name": "carb"},
      "mark": {"type": "text", "align": "center", "baseline": "middle", "fontSize": 19, "font": "Liberation Sans", "color": "black"},
      "encoding": {"text": {"field": "t"}}
    }
  ]
}
